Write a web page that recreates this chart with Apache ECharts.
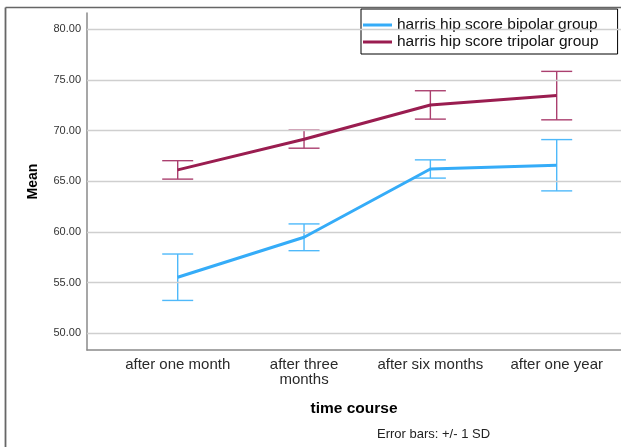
<!DOCTYPE html>
<html>
<head>
<meta charset="utf-8">
<script src="https://cdn.jsdelivr.net/npm/echarts@6/dist/echarts.min.js"></script>
<style>
  html, body { margin: 0; padding: 0; background: #fff; }
  #chart { width: 621px; height: 447px; }
</style>
</head>
<body>
<div id="chart"></div>
<script>
// Harris hip score over time, mean +/- 1 SD per group
const categories = ['after one month', 'after three\nmonths', 'after six months', 'after one year'];
const categoryPos = [1, 2, 3, 4];
const bipolarName = 'harris hip score bipolar group';
const tripolarName = 'harris hip score tripolar group';
const bipolarMean = [55.53, 59.47, 66.21, 66.58];
const bipolarSD = [2.29, 1.32, 0.90, 2.53];
const tripolarMean = [66.12, 69.15, 72.53, 73.45];
const tripolarSD = [0.91, 0.89, 1.40, 2.39];
const yTicks = [50, 55, 60, 65, 70, 75, 80];

const BLUE = '#35acf8';
const BLUE_BAR = '#4fb9fa';
const MAROON = '#9a1d50';
const MAROON_BAR = '#ab406f';

function linePoints(means) {
  return means.map((m, i) => [categoryPos[i], m]);
}
function barPoints(means, sds) {
  return means.map((m, i) => [categoryPos[i], m - sds[i], m + sds[i]]);
}
function errorBarRenderer(color) {
  return function (params, api) {
    const x = api.value(0);
    const lo = api.coord([x, api.value(1)]);
    const hi = api.coord([x, api.value(2)]);
    const half = 15.5;
    const style = { stroke: color, lineWidth: 1.4 };
    return {
      type: 'group',
      children: [
        { type: 'line', shape: { x1: lo[0], y1: lo[1], x2: hi[0], y2: hi[1] }, style },
        { type: 'line', shape: { x1: hi[0] - half, y1: hi[1], x2: hi[0] + half, y2: hi[1] }, style },
        { type: 'line', shape: { x1: lo[0] - half, y1: lo[1], x2: lo[0] + half, y2: lo[1] }, style }
      ]
    };
  };
}

const chart = echarts.init(document.getElementById('chart'), null, { renderer: 'canvas' });
const FONT = 'Liberation Sans, Arial, sans-serif';

chart.setOption({
  animation: false,
  backgroundColor: '#fff',
  textStyle: { fontFamily: FONT },
  grid: { left: 87, right: 0, top: 13, bottom: 97, containLabel: false },
  xAxis: {
    type: 'value',
    min: 0.282,
    max: 4.509,
    splitLine: { show: false },
    axisLine: { show: true, lineStyle: { color: '#8a8a8a', width: 1.5 } },
    axisTick: { show: false },
    axisLabel: {
      customValues: categoryPos,
      formatter: v => categories[Math.round(v) - 1] || '',
      fontSize: 15,
      color: '#2a2a2a',
      lineHeight: 15,
      margin: 7,
      fontFamily: FONT
    },
    name: 'time course',
    nameLocation: 'middle',
    nameGap: 51,
    nameTextStyle: { fontSize: 15.5, fontWeight: 'bold', color: '#000', fontFamily: FONT }
  },
  yAxis: {
    type: 'value',
    min: 48.35,
    max: 81.6,
    splitLine: { show: false },
    axisLine: { show: true, lineStyle: { color: '#8a8a8a', width: 1.5 } },
    axisTick: { show: false, customValues: yTicks },
    axisLabel: {
      customValues: yTicks,
      formatter: v => v.toFixed(2),
      fontSize: 11,
      color: '#333',
      margin: 6,
      fontFamily: FONT
    },
    name: 'Mean',
    nameLocation: 'middle',
    nameRotate: 90,
    nameGap: 47,
    nameTextStyle: { fontSize: 14, fontWeight: 'bold', color: '#000', fontFamily: FONT }
  },
  legend: {
    orient: 'vertical',
    left: 361,
    top: 9,
    data: [
      { name: bipolarName, icon: 'rect', itemStyle: { color: BLUE } },
      { name: tripolarName, icon: 'rect', itemStyle: { color: MAROON } }
    ],
    itemWidth: 29,
    itemHeight: 3,
    itemGap: 1,
    padding: [8, 19, 4, 2],
    borderColor: '#000',
    borderWidth: 1,
    backgroundColor: '#fff',
    textStyle: { fontSize: 15.5, color: '#111', fontFamily: FONT }
  },
  graphic: [
    // outer frame
    { type: 'line', shape: { x1: 5.5, y1: 7.5, x2: 621, y2: 7.5 }, style: { stroke: '#666', lineWidth: 1.5 }, z: 100 },
    { type: 'line', shape: { x1: 5.5, y1: 7.5, x2: 5.5, y2: 447 }, style: { stroke: '#666', lineWidth: 1.8 }, z: 100 },
    {
      type: 'text', left: 377, top: 428,
      style: { text: 'Error bars: +/- 1 SD', fontSize: 13, fill: '#222', fontFamily: FONT }
    }
  ],
  series: [
    {
      // horizontal reference lines
      type: 'line',
      data: [],
      silent: true,
      markLine: {
        silent: true,
        symbol: 'none',
        label: { show: false },
        lineStyle: { color: '#cfcfcf', width: 1.3, type: 'solid' },
        data: yTicks.map(v => ({ yAxis: v }))
      },
      z: 1
    },
    {
      name: bipolarName + ' SD',
      type: 'custom',
      renderItem: errorBarRenderer(BLUE_BAR),
      data: barPoints(bipolarMean, bipolarSD),
      z: 3
    },
    {
      name: tripolarName + ' SD',
      type: 'custom',
      renderItem: errorBarRenderer(MAROON_BAR),
      data: barPoints(tripolarMean, tripolarSD),
      z: 3
    },
    {
      name: bipolarName,
      type: 'line',
      data: linePoints(bipolarMean),
      symbol: 'none',
      lineStyle: { color: BLUE, width: 3 },
      itemStyle: { color: BLUE },
      z: 5
    },
    {
      name: tripolarName,
      type: 'line',
      data: linePoints(tripolarMean),
      symbol: 'none',
      lineStyle: { color: MAROON, width: 3 },
      itemStyle: { color: MAROON },
      z: 5
    }
  ]
});
</script>
</body>
</html>
